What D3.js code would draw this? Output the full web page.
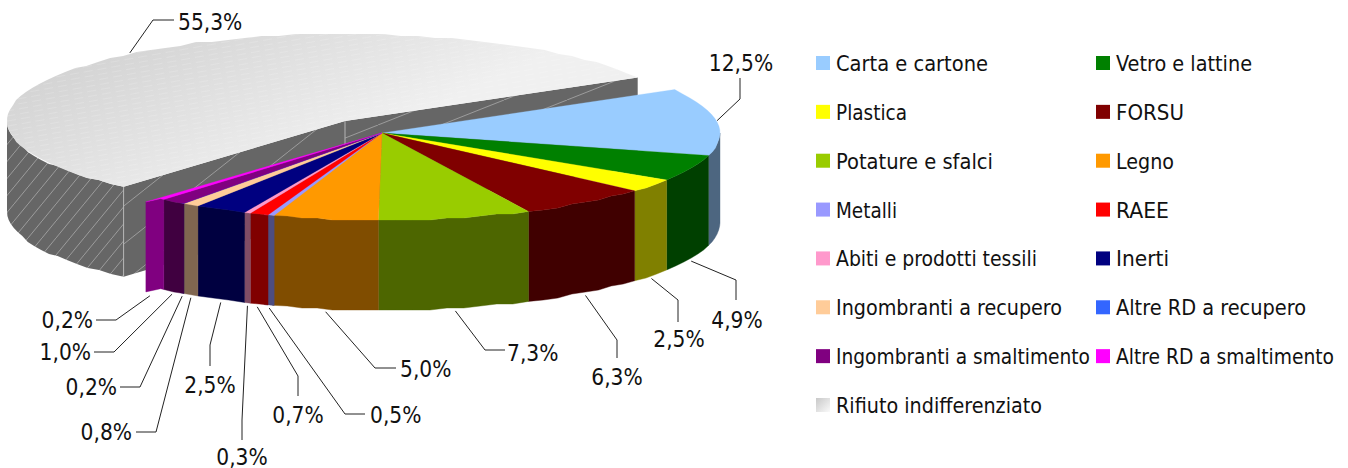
<!DOCTYPE html>
<html><head><meta charset="utf-8">
<script src="https://cdn.jsdelivr.net/npm/d3@7/dist/d3.min.js"></script>
<style>html,body{margin:0;padding:0;background:#fff}svg{display:block}
text{font-family:"DejaVu Sans Condensed","DejaVu Sans",sans-serif;font-stretch:condensed;fill:#111}</style>
</head><body><svg id="c" width="1348" height="468"></svg>
<script>
const categories=["Carta e cartone","Vetro e lattine","Plastica","FORSU","Potature e sfalci","Legno","Metalli","RAEE","Abiti e prodotti tessili","Inerti","Ingombranti a recupero","Altre RD a recupero","Ingombranti a smaltimento","Altre RD a smaltimento","Rifiuto indifferenziato"];
const values=[12.5,4.9,2.5,6.3,7.3,5.0,0.5,0.7,0.3,2.5,0.8,0.2,1.0,0.2,55.3];
const colors=["#99ccff","#008000","#ffff00","#800000","#99cc00","#ff9900","#9999ff","#ff0000","#ff99cc","#000080","#ffcc99","#3366ff","#800080","#ff00ff","url(#grad)"];
const sideColors=["#4d6680","#004000","#808000","#400000","#4d6600","#804d00","#4d4d80","#800000","#804d66","#000040","#806650","#1a3380","#400040","#800080","#666666"];
// layout only: leader elbows, label anchors, legend text widths
const elbows=[[[740,99],[740,78]],[[736,280],[736,300]],[[678,300],[678,322]],[[617,340],[617,358]],[[485,350],[505,350]],[[375,368],[396,368]],[[345,414],[365,414]],[[298,376],[298,396]],[[242,420],[242,440]],[[210,345],[210,366]],[[156,432],[136,432]],[[140,387],[120,387]],[[114,352],[94,352]],[[116,320],[96,320]],[[153,20],[174,20]]];
const labelAnchors=[[741,71],[737,328],[679,347],[617,385],[507,361],[400,377],[370,423],[298,423],[242,465],[210,393],[132,440],[117,395],[91,360],[93,328],[178,30]];
const labelAlign=["middle","middle","middle","middle","start","start","start","middle","middle","middle","end","end","end","end","start"];
const legendWidths=[152,136,71,68,157,58,61,53,201,53,226,190,254,218,206];

const RX=338,RY=87,DEPTH=90,C=[382,133],CB=[345,121],START=60,deg=Math.PI/180;
const svg=d3.select("#c");
const defs=svg.append("defs");
const g=defs.append("linearGradient").attr("id","grad").attr("gradientUnits","userSpaceOnUse")
 .attr("x1",0).attr("y1",100).attr("x2",75).attr("y2",267);
g.append("stop").attr("offset",0).attr("stop-color","#d4d4d4");
g.append("stop").attr("offset",1).attr("stop-color","#f0f0f0");
const gs=defs.append("linearGradient").attr("id","gradS").attr("x1",0).attr("y1",0).attr("x2",1).attr("y2",1);
gs.append("stop").attr("offset",0).attr("stop-color","#c8c8c8");
gs.append("stop").attr("offset",1).attr("stop-color","#fafafa");
const tex=defs.append("pattern").attr("id","tex").attr("patternUnits","userSpaceOnUse").attr("width",14).attr("height",5).attr("patternTransform","rotate(-10)");
tex.append("rect").attr("width",9).attr("height",1).attr("fill","#fff").attr("opacity",.16);
function hatchPattern(id,w,h){
 const p=defs.append("pattern").attr("id",id).attr("patternUnits","userSpaceOnUse").attr("width",w).attr("height",h);
 p.append("rect").attr("width",w).attr("height",h).attr("fill","#666666");
 p.append("path").attr("d",`M${-w*.1},${h*1.1}L${w*1.1},${-h*.1}`).attr("stroke","#a8a8a8").attr("stroke-width",0.8);
}
hatchPattern("hatchRim",14,17);
hatchPattern("hatchLeft",48,38);
hatchPattern("hatchRight",63,25);

const pie=d3.pie().sort(null).value(d=>d).startAngle(START*deg).endAngle((START+360)*deg);
const arcs=pie(values);
const pt=(c,a,r=1,dz=0)=>[c[0]+RX*r*Math.sin(a),c[1]-RY*r*Math.cos(a)+dz];
const SNAP=2;
const rimPts=(c,a0,a1,dz=0)=>{const n=Math.max(1,Math.ceil((a1-a0)/(3*deg)));
 return d3.range(n+1).map(i=>{const p=pt(c,a0+(a1-a0)*i/n,1,dz);
  return (i===0||i===n)?p:[p[0],Math.round(p[1]/SNAP)*SNAP];});};
const line=d3.line();
const poly=p=>line(p)+"Z";
const chart=svg.append("g");
// exploded slice
const big=arcs[14],a0=big.startAngle,a1=big.endAngle;
const fp=chart.append("g");
const faces=[[CB,pt(CB,a1),"url(#hatchRight)"],[CB,pt(CB,a0),"url(#hatchLeft)"]];
faces.forEach(([p,q,f])=>fp.append("path").attr("d",poly([p,q,[q[0],q[1]+DEPTH],[p[0],p[1]+DEPTH]])).attr("fill",f));
const frontEnd=Math.min(a1,1.5*Math.PI);
const topR=rimPts(CB,a0,frontEnd),botR=rimPts(CB,a0,frontEnd,DEPTH).reverse();
fp.append("path").attr("d",poly(topR.concat(botR))).attr("fill","url(#hatchRim)");
[CB,pt(CB,a0)].forEach(p=>fp.append("line").attr("x1",p[0]).attr("x2",p[0]).attr("y1",p[1]).attr("y2",p[1]+DEPTH).attr("stroke","#b4b4b4").attr("stroke-width",1));
const bigTop=poly([CB].concat(rimPts(CB,a0,a1)));
fp.append("path").attr("d",bigTop).attr("fill","url(#grad)");
fp.append("path").attr("d",bigTop).attr("fill","url(#tex)");
// coloured slices; very thin slivers sit partly under their neighbour, as in the picture
const sl=arcs.slice(0,14).map((d,i)=>{
 let s=d.startAngle,e=d.endAngle,cap=null;
 if(i===5) e+=0.3*deg;
 if(i===7) s-=0.7*deg;
 if(i===12) s=arcs[11].startAngle;
 if(i===13) cap=pt(C,e+0.5*deg,1.056);
 return {i,s,e,cap};
});
const sg=chart.append("g");
sl.forEach(d=>{
 if(d.e>Math.PI/2){
  const s2=Math.max(d.s,Math.PI/2);
  const fr=rimPts(C,s2,d.e); if(d.cap) fr.push(d.cap);
  const bot=rimPts(C,s2,d.e,DEPTH); if(d.cap) bot.push([d.cap[0],d.cap[1]+DEPTH]);
  sg.append("path").attr("d",poly(fr.concat(bot.reverse()))).attr("fill",sideColors[d.i]).attr("stroke",sideColors[d.i]).attr("stroke-width",0.4);
 }
});
sl.forEach(d=>{
 const top=rimPts(C,d.s,d.e);
 if(d.cap) top.push(d.cap);
 sg.append("path").attr("d",poly([C].concat(top))).attr("fill",colors[d.i]).attr("stroke",colors[d.i]).attr("stroke-width",0.3);
});
// leaders and labels
const lg=svg.append("g");
arcs.forEach((d,i)=>{
 const mid=(d.startAngle+d.endAngle)/2;
 const c=i===14?CB:C;
 const norm=((mid%(2*Math.PI))+2*Math.PI)%(2*Math.PI);
 const front=norm>Math.PI/2&&norm<1.5*Math.PI;
 let s=pt(c,mid,i===13?1.056:1,front?DEPTH+3:0);
 if(!front) s=[s[0],s[1]-1];
 lg.append("path").attr("d",line([s].concat(elbows[i]))).attr("fill","none").attr("stroke","#222").attr("stroke-width",1);
 lg.append("text").attr("x",labelAnchors[i][0]).attr("y",labelAnchors[i][1]).attr("text-anchor",labelAlign[i]).attr("font-size",22.5).text(d.data.toFixed(1).replace(".",",")+"%");
});
// legend
const lx=d3.scalePoint().domain([0,1]).range([816,1096]);
const ly=d3.scalePoint().domain(d3.range(8)).range([63,405]);
const leg=svg.append("g");
categories.forEach((n,i)=>{
 const col=i%2,row=Math.floor(i/2);
 leg.append("rect").attr("x",lx(col)).attr("y",ly(row)-7).attr("width",14).attr("height",14).attr("fill",i===14?"url(#gradS)":colors[i]);
 leg.append("text").attr("x",lx(col)+20).attr("y",ly(row)+8).attr("font-size",21).attr("textLength",legendWidths[i]).attr("lengthAdjust","spacingAndGlyphs").text(n);
});
</script></body></html>
